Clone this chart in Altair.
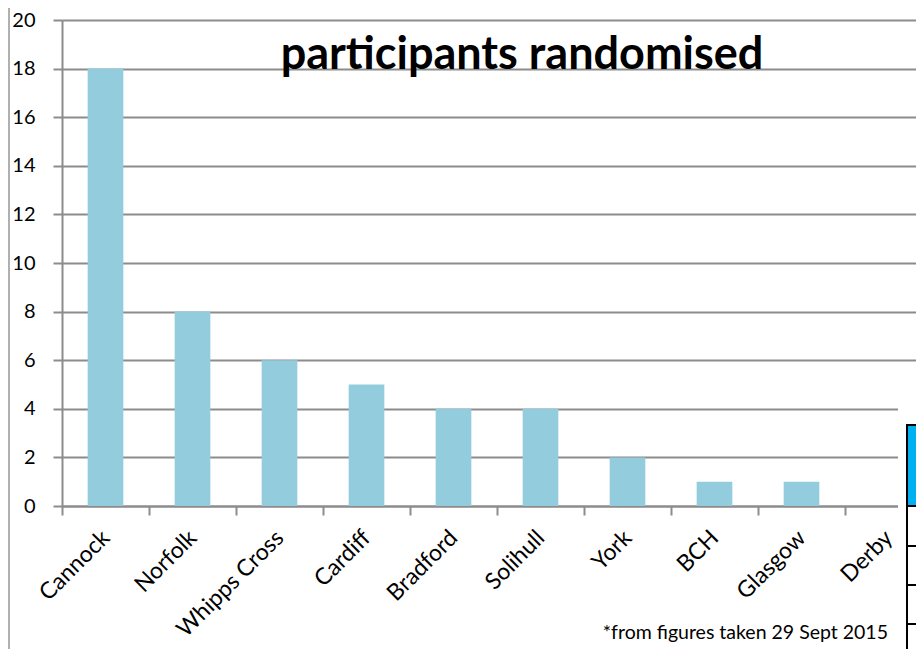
import altair as alt
import pandas as pd

sites = ["Cannock", "Norfolk", "Whipps Cross", "Cardiff", "Bradford",
         "Solihull", "York", "BCH", "Glasgow", "Derby"]
participants = [18, 8, 6, 5, 4, 4, 2, 1, 1, 0]
y_ticks = list(range(0, 21, 2))
title_text = "participants randomised"
footnote_text = "*from figures taken 29 Sept 2015"

df = pd.DataFrame({"site": sites, "n": participants})
one = alt.Data(values=[{}])

FONT = "Lato"
GRID = "#8c8c8c"

x_scale = alt.Scale(domain=sites, range=[0, 870], paddingInner=0.59, paddingOuter=0.295)

bars = alt.Chart(df).mark_bar(color="#93CDDD").encode(
    x=alt.X("site:N", scale=x_scale, sort=sites, title=None,
            axis=alt.Axis(labelAngle=-45, labelAlign="right", labelBaseline="middle",
                          labelFontSize=23, labelFont=FONT, labelColor="#000",
                          tickOffset=-43.5, labelOffset=43.5, labelLimit=300,
                          tickSize=9, tickColor=GRID, tickWidth=2,
                          domainColor=GRID, domainWidth=2, labelPadding=19,
                          grid=False)),
    y=alt.Y("n:Q", scale=alt.Scale(domain=[0, 20], nice=False), title=None,
            axis=alt.Axis(values=y_ticks, labelFontSize=20, labelFont=FONT,
                          labelColor="#000", tickSize=9, tickColor=GRID, tickWidth=2,
                          domainColor=GRID, domainWidth=2, labelPadding=18,
                          grid=True, gridColor=GRID, gridWidth=2)),
)

white_cover = alt.Chart(one).mark_rect(color="white").encode(
    x=alt.value(836), x2=alt.value(900), y=alt.value(380), y2=alt.value(660))

blue_cell = alt.Chart(one).mark_rect(color="#00B0F0", stroke="#000", strokeWidth=2).encode(
    x=alt.value(845), x2=alt.value(900), y=alt.value(405), y2=alt.value(486))

table_lines = alt.Chart(alt.Data(values=[{"y": 526}, {"y": 565}, {"y": 604}])).mark_rule(
    color="#000", strokeWidth=2).encode(
    x=alt.value(845), x2=alt.value(900), y=alt.Y("y:Q", scale=None))

table_vline = alt.Chart(one).mark_rule(color="#000", strokeWidth=2).encode(
    x=alt.value(845), y=alt.value(405), y2=alt.value(660))

left_border = alt.Chart(one).mark_rule(color="#b0b0b0", strokeWidth=2).encode(
    x=alt.value(-53), y=alt.value(-12), y2=alt.value(660))

title = alt.Chart(one).mark_text(font=FONT, fontSize=45, fontWeight="bold",
                                  align="center", baseline="alphabetic", color="#000").encode(
    x=alt.value(460), y=alt.value(49), text=alt.value(title_text))

footnote = alt.Chart(one).mark_text(font=FONT, fontSize=19.5, align="right",
                                     baseline="alphabetic", color="#000").encode(
    x=alt.value(826), y=alt.value(619), text=alt.value(footnote_text))

chart = alt.layer(bars, white_cover, blue_cell, table_lines, table_vline,
                  left_border, title, footnote).properties(
    width=854, height=486,
    padding={"left": 54, "top": 12, "right": 0, "bottom": 143},
    autosize=alt.AutoSizeParams(type="none"),
).configure_view(stroke=None)

chart.save("out.html", embed_options={"renderer": "svg", "actions": False})
